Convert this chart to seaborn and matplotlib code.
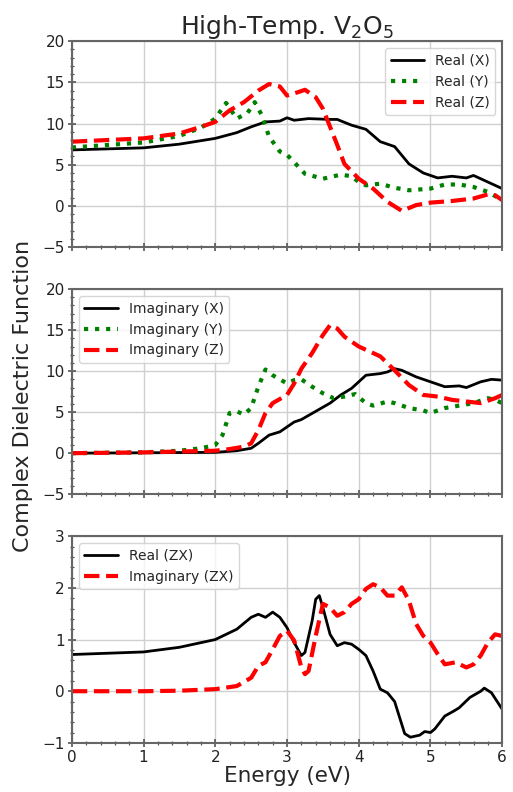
import numpy as np
import pandas as pd
import matplotlib
matplotlib.use("Agg")
import matplotlib.pyplot as plt
import seaborn as sns
from matplotlib.ticker import AutoMinorLocator, MultipleLocator

# ---- data ----
rx_e = [0, 1, 1.5, 2.0, 2.3, 2.5, 2.7, 2.9, 3.0, 3.1, 3.3, 3.6, 3.7, 3.9, 4.1, 4.3, 4.5, 4.7, 4.9, 5.1, 5.3, 5.5, 5.6, 5.8, 6.0]
rx_v = [6.8, 7.05, 7.5, 8.2, 8.9, 9.6, 10.2, 10.3, 10.7, 10.4, 10.6, 10.5, 10.5, 9.8, 9.3, 7.8, 7.2, 5.1, 4.0, 3.4, 3.6, 3.4, 3.7, 2.9, 2.1]

ry_e = [0, 1, 1.5, 1.8, 2.0, 2.15, 2.3, 2.45, 2.55, 2.65, 2.75, 2.9, 3.0, 3.1, 3.25, 3.5, 3.75, 3.9, 4.0, 4.1, 4.3, 4.5, 4.7, 5.0, 5.2, 5.4, 5.6, 5.8, 6.0]
ry_v = [7.1, 7.7, 8.5, 9.5, 10.6, 12.5, 10.6, 11.3, 12.6, 11.0, 8.4, 6.6, 6.2, 5.3, 3.9, 3.3, 3.8, 3.6, 2.9, 2.5, 2.7, 2.2, 1.9, 2.1, 2.6, 2.6, 2.3, 1.7, 0.7]

rz_e = [0, 1, 1.5, 1.8, 2.0, 2.2, 2.4, 2.6, 2.75, 2.9, 3.0, 3.15, 3.25, 3.4, 3.5, 3.6, 3.7, 3.8, 4.0, 4.2, 4.4, 4.6, 4.8, 5.0, 5.3, 5.6, 5.8, 5.9, 6.0]
rz_v = [7.8, 8.2, 8.8, 9.6, 10.2, 11.6, 12.6, 14.0, 14.8, 14.5, 13.4, 13.8, 14.1, 13.2, 11.8, 9.6, 7.4, 5.1, 3.3, 2.1, 0.5, -0.6, 0.1, 0.4, 0.6, 0.9, 1.4, 1.3, 0.7]

ix_e = [0, 1, 2.0, 2.3, 2.5, 2.6, 2.75, 2.9, 3.0, 3.1, 3.2, 3.4, 3.6, 3.75, 3.9, 4.0, 4.1, 4.3, 4.4, 4.5, 4.6, 4.8, 5.0, 5.2, 5.4, 5.5, 5.7, 5.85, 6.0]
ix_v = [0.0, 0.05, 0.1, 0.3, 0.6, 1.2, 2.2, 2.6, 3.2, 3.8, 4.1, 5.1, 6.1, 7.1, 7.9, 8.7, 9.5, 9.7, 9.9, 10.3, 10.1, 9.3, 8.7, 8.1, 8.2, 8.0, 8.7, 9.0, 8.9]

iy_e = [0, 1, 1.5, 1.8, 2.0, 2.1, 2.2, 2.3, 2.4, 2.5, 2.6, 2.7, 2.8, 3.0, 3.1, 3.2, 3.35, 3.5, 3.65, 3.8, 3.95, 4.1, 4.2, 4.4, 4.5, 4.7, 4.9, 5.0, 5.2, 5.4, 5.6, 5.8, 5.9, 6.0]
iy_v = [0.0, 0.1, 0.3, 0.6, 1.0, 2.2, 4.9, 5.1, 4.7, 5.5, 8.1, 10.2, 9.5, 8.5, 8.9, 9.0, 8.1, 7.3, 6.7, 6.9, 7.2, 6.1, 5.8, 6.3, 6.1, 5.5, 5.2, 4.9, 5.5, 5.8, 6.1, 6.7, 6.5, 6.1]

iz_e = [0, 1, 2.0, 2.2, 2.4, 2.5, 2.6, 2.7, 2.8, 3.0, 3.1, 3.2, 3.35, 3.5, 3.6, 3.7, 3.8, 4.0, 4.15, 4.3, 4.5, 4.7, 4.9, 5.1, 5.3, 5.5, 5.7, 5.9, 6.0]
iz_v = [0.0, 0.1, 0.3, 0.5, 0.8, 1.2, 2.8, 4.9, 6.1, 7.1, 8.5, 10.3, 12.2, 14.4, 15.6, 15.2, 14.2, 13.0, 12.4, 11.8, 10.1, 8.3, 7.1, 6.9, 6.5, 6.3, 6.1, 6.7, 7.1]

rzx_e = [0, 1, 1.5, 2.0, 2.3, 2.5, 2.6, 2.7, 2.8, 2.9, 3.0, 3.1, 3.2, 3.25, 3.35, 3.4, 3.45, 3.5, 3.6, 3.7, 3.8, 3.9, 4.0, 4.1, 4.2, 4.3, 4.4, 4.5, 4.64, 4.72, 4.85, 4.92, 5.0, 5.06, 5.2, 5.33, 5.4, 5.55, 5.7, 5.75, 5.85, 6.0]
rzx_v = [0.71, 0.76, 0.85, 1.0, 1.2, 1.43, 1.49, 1.43, 1.53, 1.43, 1.23, 0.94, 0.69, 0.75, 1.36, 1.78, 1.85, 1.62, 1.1, 0.88, 0.94, 0.91, 0.81, 0.69, 0.39, 0.04, -0.03, -0.2, -0.82, -0.89, -0.85, -0.78, -0.80, -0.73, -0.48, -0.38, -0.32, -0.12, 0.0, 0.06, -0.03, -0.35]

izx_e = [0, 1, 1.5, 2.0, 2.3, 2.5, 2.6, 2.7, 2.8, 2.9, 3.0, 3.1, 3.2, 3.25, 3.3, 3.4, 3.5, 3.6, 3.7, 3.8, 3.9, 4.0, 4.1, 4.2, 4.3, 4.4, 4.5, 4.6, 4.7, 4.8, 4.9, 5.0, 5.1, 5.2, 5.35, 5.5, 5.6, 5.7, 5.8, 5.9, 6.0]
izx_v = [0.0, 0.0, 0.01, 0.04, 0.1, 0.26, 0.49, 0.56, 0.81, 1.07, 1.17, 0.98, 0.46, 0.33, 0.39, 1.07, 1.69, 1.62, 1.46, 1.53, 1.69, 1.78, 1.98, 2.07, 2.01, 1.85, 1.85, 2.01, 1.75, 1.3, 1.07, 0.94, 0.72, 0.52, 0.56, 0.46, 0.52, 0.69, 0.94, 1.1, 1.07]

title = "High-Temp. V$_2$O$_5$"
ylabel = "Complex Dielectric Function"
xlabel = "Energy (eV)"

sns.set_style("whitegrid")
plt.rcParams['font.family'] = ['DejaVu Sans']

fig = plt.figure(figsize=(5.13, 7.92), dpi=100)
left, width = 0.140, 0.839
ax1 = fig.add_axes([left, 0.688, width, 0.260])
ax2 = fig.add_axes([left, 0.376, width, 0.259], sharex=ax1)
ax3 = fig.add_axes([left, 0.062, width, 0.261], sharex=ax1)

def df(e, v):
    return pd.DataFrame({"e": e, "v": v})

blk = dict(color="black", lw=2.0)
grn = dict(color="green", lw=3.0)
red = dict(color="red", lw=3.0)

sns.lineplot(data=df(rx_e, rx_v), x="e", y="v", ax=ax1, label="Real (X)", **blk)
sns.lineplot(data=df(ry_e, ry_v), x="e", y="v", ax=ax1, label="Real (Y)", linestyle=":", **grn)
sns.lineplot(data=df(rz_e, rz_v), x="e", y="v", ax=ax1, label="Real (Z)", linestyle="--", **red)

sns.lineplot(data=df(ix_e, ix_v), x="e", y="v", ax=ax2, label="Imaginary (X)", **blk)
sns.lineplot(data=df(iy_e, iy_v), x="e", y="v", ax=ax2, label="Imaginary (Y)", linestyle=":", **grn)
sns.lineplot(data=df(iz_e, iz_v), x="e", y="v", ax=ax2, label="Imaginary (Z)", linestyle="--", **red)

sns.lineplot(data=df(rzx_e, rzx_v), x="e", y="v", ax=ax3, label="Real (ZX)", **blk)
sns.lineplot(data=df(izx_e, izx_v), x="e", y="v", ax=ax3, label="Imaginary (ZX)", linestyle="--", **red)

for ax in (ax1, ax2):
    ax.set_ylim(-5, 20)
    ax.yaxis.set_major_locator(MultipleLocator(5))
ax3.set_ylim(-1, 3)
ax3.yaxis.set_major_locator(MultipleLocator(1))

for ax in (ax1, ax2, ax3):
    ax.set_xlim(0, 6)
    ax.xaxis.set_major_locator(MultipleLocator(1))
    ax.xaxis.set_minor_locator(AutoMinorLocator(5))
    ax.yaxis.set_minor_locator(AutoMinorLocator(5))
    ax.set_xlabel("")
    ax.set_ylabel("")
    ax.grid(True, which="major", color="#d0d0d0", lw=1.0)
    ax.grid(False, which="minor")
    for s in ax.spines.values():
        s.set_color("#666666")
        s.set_linewidth(1.5)
    ax.tick_params(axis="both", which="major", direction="inout", length=6, width=1.2,
                   color="#555555", labelsize=11, labelcolor="#222222", left=True, bottom=True, pad=2)
    ax.tick_params(axis="both", which="minor", direction="inout", length=3, width=0.9,
                   color="#555555", left=True, bottom=True)

ax1.tick_params(axis="x", labelbottom=False)
ax2.tick_params(axis="x", labelbottom=False)

leg_kw = dict(fontsize=10, frameon=True, framealpha=0.8, edgecolor="#cccccc", handlelength=2.4)
ax1.legend(loc="upper right", **leg_kw)
ax2.legend(loc="upper left", **leg_kw)
ax3.legend(loc="upper left", **leg_kw)

ax1.set_title(title, fontsize=18, pad=5)
ax3.set_xlabel(xlabel, fontsize=15.5, labelpad=1)
fig.text(0.045, 0.50, ylabel, rotation=90, fontsize=16, ha="center", va="center")

fig.savefig("out.png", dpi=100)
